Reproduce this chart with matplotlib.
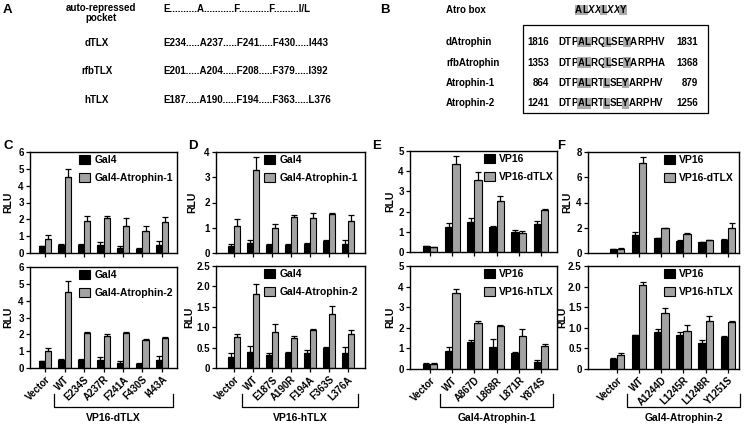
import numpy as np
import matplotlib.pyplot as plt
import matplotlib.font_manager as fm
from matplotlib.transforms import blended_transform_factory
from matplotlib.lines import Line2D

# pick a sans family that really has a bold face
FAM = 'DejaVu Sans'
for fam in ['Liberation Sans', 'Arimo', 'Roboto', 'Open Sans', 'Lato', 'Inter', 'Noto Sans']:
    try:
        p = fm.findfont(fm.FontProperties(family=fam, weight='bold'),
                        fallback_to_default=False)
    except Exception:
        continue
    if 'bold' in p.lower():
        FAM = fam
        break
plt.rcParams['font.family'] = [FAM, 'DejaVu Sans']
plt.rcParams['font.weight'] = 'bold'

W, H = 746, 424

# ---- data ----
c_groups = ['Vector', 'WT', 'E234S', 'A237R', 'F241A', 'F430S', 'I443A']
c_gal4 = [0.4, 0.5, 0.45, 0.5, 0.3, 0.25, 0.5]
c_gal4_err = [0.02, 0.02, 0.1, 0.15, 0.1, 0.03, 0.2]
c_atro1 = [0.85, 4.5, 1.9, 2.1, 1.6, 1.3, 1.85]
c_atro1_err = [0.2, 0.5, 0.3, 0.12, 0.45, 0.3, 0.3]
c_gal4b = [0.4, 0.5, 0.45, 0.5, 0.3, 0.25, 0.5]
c_gal4b_err = [0.02, 0.02, 0.1, 0.15, 0.1, 0.02, 0.2]
c_atro2 = [1.0, 4.5, 2.05, 1.9, 2.05, 1.65, 1.8]
c_atro2_err = [0.2, 0.65, 0.1, 0.1, 0.1, 0.1, 0.05]

d_groups = ['Vector', 'WT', 'E187S', 'A190R', 'F194A', 'F363S', 'L376A']
d_gal4 = [0.28, 0.38, 0.3, 0.33, 0.35, 0.48, 0.35]
d_gal4_err = [0.08, 0.14, 0.05, 0.03, 0.06, 0.03, 0.15]
d_atro1 = [1.08, 3.3, 0.98, 1.42, 1.38, 1.55, 1.25]
d_atro1_err = [0.26, 0.5, 0.15, 0.1, 0.2, 0.03, 0.27]
d_gal4b = [0.28, 0.38, 0.32, 0.37, 0.37, 0.48, 0.37]
d_gal4b_err = [0.08, 0.15, 0.05, 0.02, 0.06, 0.03, 0.15]
d_atro2 = [0.75, 1.82, 0.88, 0.73, 0.93, 1.33, 0.84]
d_atro2_err = [0.08, 0.24, 0.2, 0.05, 0.02, 0.2, 0.1]

e_groups = ['Vector', 'WT', 'A867D', 'L868R', 'L871R', 'Y874S']
e_vp16 = [0.28, 1.25, 1.5, 1.22, 0.97, 1.38]
e_vp16_err = [0.03, 0.2, 0.2, 0.05, 0.12, 0.17]
e_dtlx = [0.25, 4.35, 3.55, 2.52, 0.95, 2.1]
e_dtlx_err = [0.02, 0.4, 0.4, 0.25, 0.08, 0.03]
e_vp16b = [0.25, 0.88, 1.32, 1.07, 0.78, 0.35]
e_vp16b_err = [0.03, 0.2, 0.1, 0.38, 0.03, 0.08]
e_htlx = [0.25, 3.7, 2.22, 2.08, 1.62, 1.1]
e_htlx_err = [0.03, 0.17, 0.12, 0.08, 0.33, 0.13]

f_groups = ['Vector', 'WT', 'A1244D', 'L1245R', 'L1248R', 'Y1251S']
f_vp16 = [0.28, 1.45, 1.15, 0.95, 0.85, 1.05]
f_vp16_err = [0.02, 0.25, 0.05, 0.05, 0.03, 0.05]
f_dtlx = [0.35, 7.1, 1.95, 1.5, 1.0, 1.95]
f_dtlx_err = [0.02, 0.5, 0.03, 0.1, 0.05, 0.4]
f_vp16b = [0.25, 0.82, 0.9, 0.82, 0.63, 0.77]
f_vp16b_err = [0.02, 0.01, 0.08, 0.07, 0.07, 0.02]
f_htlx = [0.35, 2.05, 1.35, 0.93, 1.17, 1.15]
f_htlx_err = [0.03, 0.05, 0.13, 0.15, 0.12, 0.02]

pocket_names = ['dTLX', 'rfbTLX', 'hTLX']
pocket_seqs = ['E234.....A237.....F241.....F430.....I443',
               'E201.....A204.....F208.....F379.....I392',
               'E187.....A190.....F194.....F363.....L376']

atro_names = ['dAtrophin', 'rfbAtrophin', 'Atrophin-1', 'Atrophin-2']
atro_start = ['1816', '1353', '864', '1241']
atro_end = ['1831', '1368', '879', '1256']
atro_seqs = ['DTPALRQLSEYARPHV', 'DTPALRQLSEYARPHA',
             'DTPALRTLSEYARPHV', 'DTPALRTLSEYARPHV']
atro_hl = [3, 4, 7, 10]   # highlighted residues in each sequence

BLACK = '#000000'
GRAY = '#a3a3a3'
HL = '#ababab'

fig = plt.figure(figsize=(W / 100, H / 100), dpi=100)

# pixel overlay for the text panels
axt = fig.add_axes([0, 0, 1, 1])
axt.set_xlim(0, W)
axt.set_ylim(H, 0)
axt.axis('off')


def px_axes(l, t, r, b):
    return fig.add_axes([l / W, 1 - b / H, (r - l) / W, (b - t) / H])


def chain(x, y, s, hl=(), italic=(), fs=7):
    prev = None
    for i, ch in enumerate(s):
        kw = dict(fontsize=fs, fontweight='bold',
                  fontstyle='italic' if i in italic else 'normal')
        if i in hl:
            kw['bbox'] = dict(boxstyle='square,pad=0.05', fc=HL, ec='none')
        if prev is None:
            prev = axt.text(x, y, ch, ha='left', va='center', **kw)
        else:
            prev = axt.annotate(ch, xy=(1, 0), xycoords=prev,
                                ha='left', va='bottom', **kw)


def panel(ax, groups, a, a_err, b, b_err, names, ylim, yticks, fmt,
          xlim, legx, ylab_x, xlabels=False, bracket=None):
    n = len(groups)
    x = np.arange(n)
    w = 0.33
    ax.bar(x - w / 2, a, w, color=BLACK, edgecolor='black', linewidth=0.8,
           label=names[0], zorder=2)
    ax.bar(x + w / 2, b, w, color=GRAY, edgecolor='black', linewidth=0.8,
           label=names[1], zorder=2)
    z = np.zeros(n)
    ax.errorbar(x - w / 2, a, yerr=[z, a_err], fmt='none', ecolor='black',
                elinewidth=0.9, capsize=2, capthick=0.9, zorder=3)
    ax.errorbar(x + w / 2, b, yerr=[z, b_err], fmt='none', ecolor='black',
                elinewidth=0.9, capsize=2, capthick=0.9, zorder=3)
    ax.set_xlim(*xlim)
    ax.set_ylim(*ylim)
    ax.set_yticks(yticks)
    ax.set_yticklabels([fmt(v) for v in yticks], fontsize=7, fontweight='bold')
    ax.set_xticks(x)
    if xlabels:
        ax.set_xticklabels(groups, rotation=45, ha='right',
                           rotation_mode='anchor', fontsize=7,
                           fontweight='bold')
    else:
        ax.set_xticklabels([])
    ax.tick_params(direction='out', length=3, width=0.9, pad=1.5)
    for s in ax.spines.values():
        s.set_linewidth(1.0)
    bb = ax.get_position()
    axt.text(ylab_x, (1 - (bb.y0 + bb.height / 2)) * H, 'RLU', rotation=90,
             ha='center', va='center', fontsize=7.5, fontweight='bold')
    ax.legend(loc='upper left', bbox_to_anchor=(legx, 0.97), frameon=False,
              handlelength=1.1, handleheight=1.0,
              labelspacing=0.75, handletextpad=0.4, borderpad=0,
              borderaxespad=0, prop=dict(weight='bold', size=7.5))
    if bracket:
        tr = blended_transform_factory(ax.transData, axt.transData)
        x0, x1 = 0.45, n - 0.45
        ax.add_line(Line2D([x0, x0, x1, x1], [394, 407, 407, 394], color='black',
                           lw=0.9, transform=tr, clip_on=False))
        ax.text((x0 + x1) / 2, 418, bracket, transform=tr, ha='center',
                va='center', fontsize=7.5, fontweight='bold')


def fint(v):
    return '%d' % v


def fdec(v):
    return '0' if v == 0 else '%.1f' % v


# ---- panel A ----
axt.text(3, 10, 'A', fontsize=9.5, fontweight='bold', va='center')
axt.text(101, 8, 'auto-repressed', fontsize=7, ha='center', va='center')
axt.text(101, 18, 'pocket', fontsize=7, ha='center', va='center')
axt.text(163, 9, 'E..........A...........F...........F.........I/L', fontsize=7,
         va='center')
for i, (nm, sq) in enumerate(zip(pocket_names, pocket_seqs)):
    y = 43 + i * 28.5
    axt.text(97, y, nm, fontsize=7, ha='center', va='center')
    axt.text(163, y, sq, fontsize=7, va='center')

# ---- panel B ----
axt.text(380, 10, 'B', fontsize=9.5, fontweight='bold', va='center')
axt.text(446, 10, 'Atro box', fontsize=7, va='center')
chain(575, 10, 'ALXXLXXY', hl=(0, 1, 4, 7), italic=(2, 3, 5, 6))
axt.add_patch(plt.Rectangle((523, 25), 185, 88, fill=False, ec='black', lw=0.9))
for i, nm in enumerate(atro_names):
    y = 42 + i * 20.5
    axt.text(446, y, nm, fontsize=7, va='center')
    axt.text(549, y, atro_start[i], fontsize=7, ha='right', va='center')
    chain(558, y, atro_seqs[i], hl=atro_hl)
    axt.text(698, y, atro_end[i], fontsize=7, ha='right', va='center')

# ---- bar panels ----
for lbl, x in [('C', 3), ('D', 188), ('E', 372), ('F', 557)]:
    axt.text(x, 146, lbl, fontsize=9.5, fontweight='bold', va='center')

ax = px_axes(30, 152, 177, 253)
panel(ax, c_groups, c_gal4, c_gal4_err, c_atro1, c_atro1_err,
      ['Gal4', 'Gal4-Atrophin-1'], (0, 6), [0, 1, 2, 3, 4, 5, 6], fint,
      (-0.77, 6.77), 0.33, 8)
ax = px_axes(30, 267, 177, 368)
panel(ax, c_groups, c_gal4b, c_gal4b_err, c_atro2, c_atro2_err,
      ['Gal4', 'Gal4-Atrophin-2'], (0, 6), [0, 1, 2, 3, 4, 5, 6], fint,
      (-0.77, 6.77), 0.33, 8, True, 'VP16-dTLX')

ax = px_axes(216, 152, 365, 253)
panel(ax, d_groups, d_gal4, d_gal4_err, d_atro1, d_atro1_err,
      ['Gal4', 'Gal4-Atrophin-1'], (0, 4), [0, 1, 2, 3, 4], fint,
      (-0.94, 6.9), 0.32, 192)
ax = px_axes(216, 266, 365, 368)
panel(ax, d_groups, d_gal4b, d_gal4b_err, d_atro2, d_atro2_err,
      ['Gal4', 'Gal4-Atrophin-2'], (0, 2.5), [0, 0.5, 1.0, 1.5, 2.0, 2.5], fdec,
      (-0.94, 6.9), 0.32, 189, True, 'VP16-hTLX')

ax = px_axes(410, 151, 557, 252)
panel(ax, e_groups, e_vp16, e_vp16_err, e_dtlx, e_dtlx_err,
      ['VP16', 'VP16-dTLX'], (0, 5), [0, 1, 2, 3, 4, 5], fint,
      (-0.9, 5.72), 0.5, 390)
ax = px_axes(410, 266, 557, 369)
panel(ax, e_groups, e_vp16b, e_vp16b_err, e_htlx, e_htlx_err,
      ['VP16', 'VP16-hTLX'], (0, 5), [0, 1, 2, 3, 4, 5], fint,
      (-0.9, 5.72), 0.5, 390, True, 'Gal4-Atrophin-1')

ax = px_axes(588, 152, 739, 253)
panel(ax, f_groups, f_vp16, f_vp16_err, f_dtlx, f_dtlx_err,
      ['VP16', 'VP16-dTLX'], (0, 8), [0, 2, 4, 6, 8], fint,
      (-1.3, 5.5), 0.5, 567)
ax = px_axes(588, 266, 739, 369)
panel(ax, f_groups, f_vp16b, f_vp16b_err, f_htlx, f_htlx_err,
      ['VP16', 'VP16-hTLX'], (0, 2.5), [0, 0.5, 1.0, 1.5, 2.0, 2.5], fdec,
      (-1.3, 5.5), 0.5, 562, True, 'Gal4-Atrophin-2')

fig.savefig('out.png', dpi=100)
